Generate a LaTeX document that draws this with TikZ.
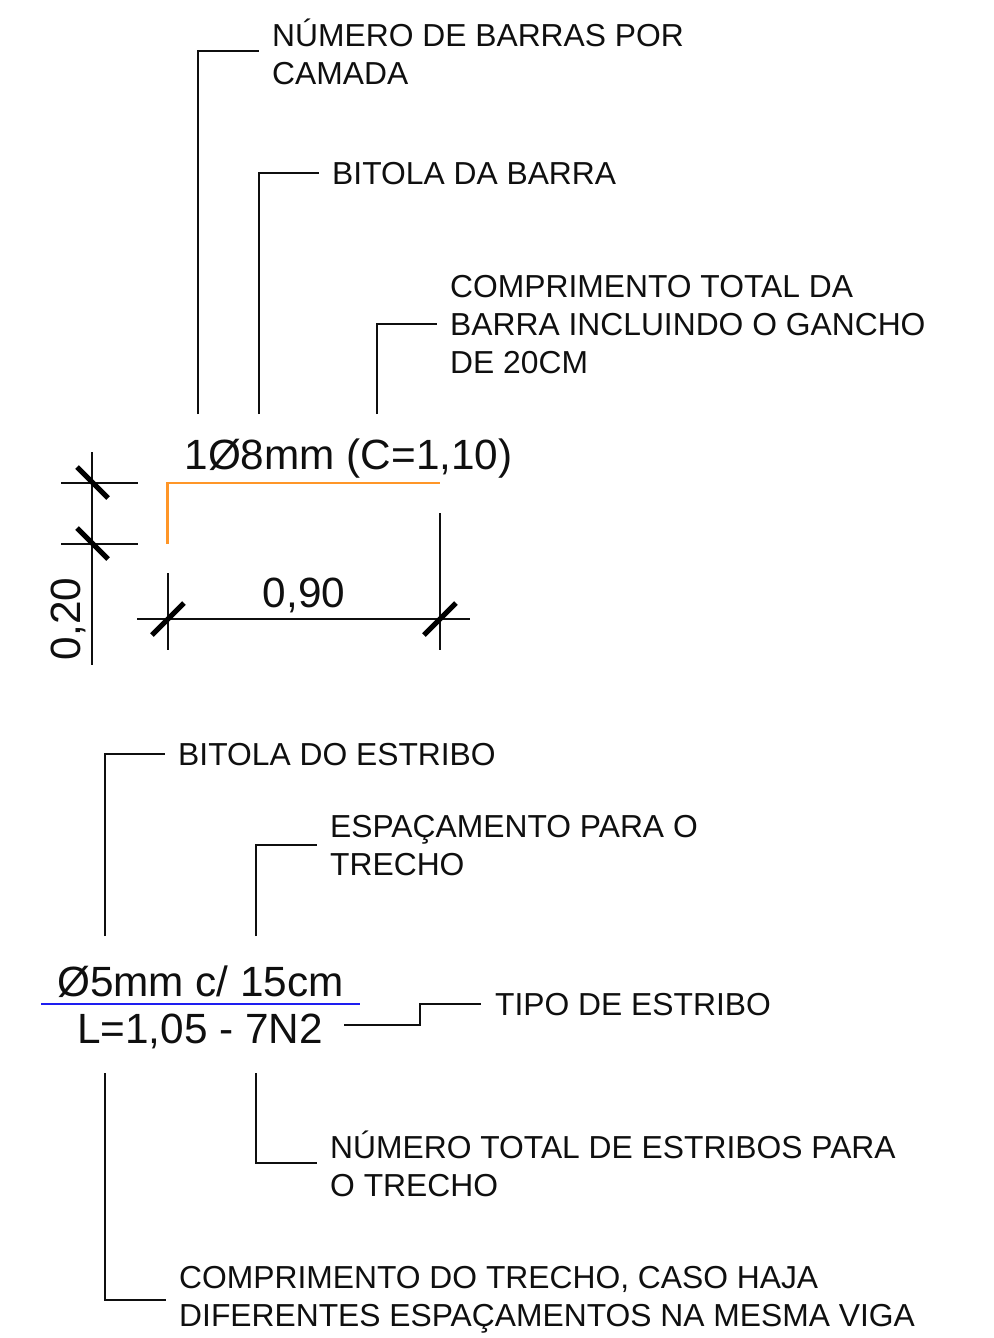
\documentclass[tikz,border=0pt]{standalone}
\usepackage{fontspec}
\setmainfont{Liberation Sans}
\newcommand{\lblfont}{\fontsize{31.8}{38}\selectfont}
\newcommand{\bigfont}{\fontsize{42.3}{48}\selectfont}
\definecolor{ink}{RGB}{15,15,15}
\definecolor{barorange}{RGB}{255,150,40}
\definecolor{barblue}{RGB}{30,30,240}
\begin{document}
\begin{tikzpicture}[x=1pt,y=-1pt,
  lbl/.style={inner sep=0pt,anchor=base west,align=left,font=\lblfont,text=ink},
  big/.style={inner sep=0pt,anchor=base,font=\bigfont,text=ink},
  leader/.style={draw=ink,line width=1.1pt},
  dimline/.style={draw=ink,line width=1.1pt},
  tick/.style={draw=black,line width=5pt}]
\useasboundingbox (0,0) rectangle (993,1338);
% top labels
\node[lbl] (n1) at (272,84.5) {NÚMERO DE BARRAS POR\\CAMADA};
\node[lbl] (n2) at (332,184.5) {BITOLA DA BARRA};
\node[lbl] (n3) at (450,373.5) {COMPRIMENTO TOTAL DA\\BARRA INCLUINDO O GANCHO\\DE 20CM};
\node[big] (t1) at (348.5,469) {1Ø8mm (C=1,10)};
\coordinate (a1) at (198,414); \coordinate (a2) at (198,51); \coordinate (a3) at (259,51);
\draw[leader] (a1) -- (a2) -- (a3);
\coordinate (b1) at (259,414); \coordinate (b2) at (259,173); \coordinate (b3) at (319,173);
\draw[leader] (b1) -- (b2) -- (b3);
\coordinate (c1) at (377,414); \coordinate (c2) at (377,324); \coordinate (c3) at (437,324);
\draw[leader] (c1) -- (c2) -- (c3);
% bar
\coordinate (r1) at (167.5,544); \coordinate (r2) at (167.5,483); \coordinate (r3) at (440,483);
\draw[draw=barorange,line width=2.6pt] (r1) -- (r2) -- (r3);
% horizontal dimension
\coordinate (h1) at (137,619); \coordinate (h2) at (470,619);
\draw[dimline] (h1) -- (h2);
\coordinate (e1) at (168,573); \coordinate (e2) at (168,650);
\coordinate (e3) at (440,513); \coordinate (e4) at (440,650);
\draw[dimline] (e1) -- (e2); \draw[dimline] (e3) -- (e4);
\coordinate (k1) at (152,635); \coordinate (k2) at (184,603);
\coordinate (k3) at (424,635); \coordinate (k4) at (456,603);
\draw[tick] (k1) -- (k2); \draw[tick] (k3) -- (k4);
\node[big] (d1) at (304,607.5) {0,90};
% vertical dimension
\coordinate (v1) at (92,452); \coordinate (v2) at (92,665);
\draw[dimline] (v1) -- (v2);
\coordinate (w1) at (61,483); \coordinate (w2) at (138,483);
\coordinate (w3) at (61,544); \coordinate (w4) at (138,544);
\draw[dimline] (w1) -- (w2); \draw[dimline] (w3) -- (w4);
\coordinate (m1) at (77,467); \coordinate (m2) at (108,498);
\coordinate (m3) at (77,528); \coordinate (m4) at (108,559);
\draw[tick] (m1) -- (m2); \draw[tick] (m3) -- (m4);
\node[big,rotate=90] (d2) at (80,619) {0,20};
% bottom labels
\node[lbl] (s1) at (178,765) {BITOLA DO ESTRIBO};
\node[lbl] (s2) at (330,875.5) {ESPAÇAMENTO PARA O\\TRECHO};
\node[lbl] (s3) at (495,1015.5) {TIPO DE ESTRIBO};
\node[lbl] (s4) at (330,1196.5) {NÚMERO TOTAL DE ESTRIBOS PARA\\O TRECHO};
\node[lbl] (s5) at (179,1326) {COMPRIMENTO DO TRECHO, CASO HAJA\\DIFERENTES ESPAÇAMENTOS NA MESMA VIGA};
\node[big] (t2) at (200.5,996) {Ø5mm c/ 15cm};
\node[big] (t3) at (200,1043) {L=1,05 - 7N2};
\coordinate (f1) at (41,1004); \coordinate (f2) at (360,1004);
\draw[draw=barblue,line width=2.6pt] (f1) -- (f2);
\coordinate (g1) at (105,936); \coordinate (g2) at (105,754); \coordinate (g3) at (165,754);
\draw[leader] (g1) -- (g2) -- (g3);
\coordinate (i1) at (256,936); \coordinate (i2) at (256,845); \coordinate (i3) at (317,845);
\draw[leader] (i1) -- (i2) -- (i3);
\coordinate (j1) at (344,1025); \coordinate (j2) at (420,1025); \coordinate (j3) at (420,1004); \coordinate (j4) at (481,1004);
\draw[leader] (j1) -- (j2) -- (j3) -- (j4);
\coordinate (l1) at (256,1073); \coordinate (l2) at (256,1163); \coordinate (l3) at (317,1163);
\draw[leader] (l1) -- (l2) -- (l3);
\coordinate (o1) at (105,1073); \coordinate (o2) at (105,1300); \coordinate (o3) at (166,1300);
\draw[leader] (o1) -- (o2) -- (o3);
\end{tikzpicture}
\end{document}
